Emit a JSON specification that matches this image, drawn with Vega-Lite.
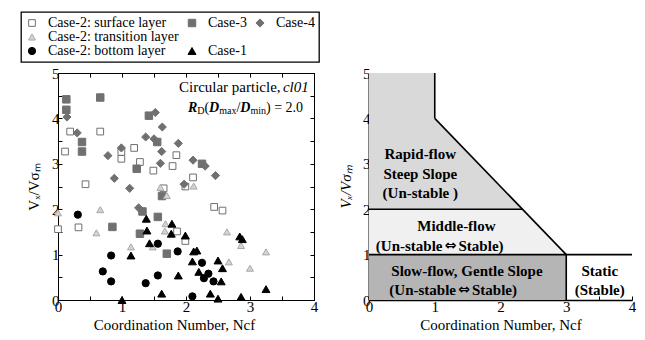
{
  "$schema": "https://vega.github.io/schema/vega-lite/v6.json",
  "padding": {"left": 19, "top": 10, "right": 5, "bottom": 5},
  "background": "white",
  "bounds": "flush",
  "spacing": 55,
  "resolve": {
    "scale": {"shape": "independent", "fill": "independent", "stroke": "independent", "size": "independent", "color": "independent"},
    "legend": {"shape": "independent", "fill": "independent", "stroke": "independent", "size": "independent", "color": "independent"}
  },
  "config": {
    "font": "Liberation Serif",
    "view": {"stroke": null},
    "axis": {
      "labelFont": "Liberation Serif", "labelFontSize": 15, "labelColor": "black",
      "titleFont": "Liberation Serif", "titleFontSize": 15, "titleFontWeight": "normal", "titleColor": "black",
      "domainColor": "black", "tickColor": "black", "tickSize": -4, "labelPadding": 3, "grid": false,
      "labelFlush": false, "labelOverlap": false
    },
    "legend": {
      "title": null, "orient": "none", "legendX": -37, "legendY": -61, "columns": 3,
      "labelFont": "Liberation Serif", "labelFontSize": 14, "labelColor": "black", "labelLimit": 0,
      "symbolStrokeWidth": 1, "labelOffset": 9, "columnPadding": 6, "rowPadding": 0,
      "padding": 4, "strokeColor": "black", "strokeWidth": 1.3, "fillColor": "white"
    }
  },
  "datasets": {
    "points": [
      {"case": "Case-2: surface layer", "Ncf": 0.0, "V": 1.56},
      {"case": "Case-2: surface layer", "Ncf": 0.11, "V": 3.27},
      {"case": "Case-2: surface layer", "Ncf": 0.19, "V": 3.71},
      {"case": "Case-2: surface layer", "Ncf": 0.32, "V": 1.6},
      {"case": "Case-2: surface layer", "Ncf": 0.43, "V": 2.55},
      {"case": "Case-2: surface layer", "Ncf": 0.66, "V": 3.71},
      {"case": "Case-2: surface layer", "Ncf": 0.99, "V": 3.26},
      {"case": "Case-2: surface layer", "Ncf": 0.99, "V": 3.11},
      {"case": "Case-2: surface layer", "Ncf": 1.19, "V": 3.35},
      {"case": "Case-2: surface layer", "Ncf": 1.28, "V": 3.04},
      {"case": "Case-2: surface layer", "Ncf": 1.49, "V": 2.85},
      {"case": "Case-2: surface layer", "Ncf": 1.65, "V": 2.46},
      {"case": "Case-2: surface layer", "Ncf": 1.79, "V": 2.95},
      {"case": "Case-2: surface layer", "Ncf": 1.85, "V": 3.19},
      {"case": "Case-2: surface layer", "Ncf": 1.86, "V": 1.51},
      {"case": "Case-2: surface layer", "Ncf": 1.99, "V": 2.5},
      {"case": "Case-2: surface layer", "Ncf": 1.99, "V": 1.3},
      {"case": "Case-2: surface layer", "Ncf": 2.11, "V": 2.7},
      {"case": "Case-2: surface layer", "Ncf": 2.44, "V": 2.05},
      {"case": "Case-2: surface layer", "Ncf": 2.57, "V": 1.97},
      {"case": "Case-3", "Ncf": 0.13, "V": 4.42},
      {"case": "Case-3", "Ncf": 0.13, "V": 4.19},
      {"case": "Case-3", "Ncf": 0.375, "V": 3.48},
      {"case": "Case-3", "Ncf": 0.375, "V": 3.27},
      {"case": "Case-3", "Ncf": 0.66, "V": 4.46},
      {"case": "Case-3", "Ncf": 0.85, "V": 1.61},
      {"case": "Case-3", "Ncf": 1.23, "V": 2.89},
      {"case": "Case-3", "Ncf": 1.28, "V": 1.46},
      {"case": "Case-3", "Ncf": 1.32, "V": 1.95},
      {"case": "Case-3", "Ncf": 1.42, "V": 4.06},
      {"case": "Case-3", "Ncf": 1.55, "V": 3.48},
      {"case": "Case-3", "Ncf": 1.56, "V": 1.83},
      {"case": "Case-3", "Ncf": 1.625, "V": 2.29},
      {"case": "Case-3", "Ncf": 1.7, "V": 1.02},
      {"case": "Case-3", "Ncf": 2.25, "V": 3.0},
      {"case": "Case-4", "Ncf": 0.14, "V": 4.03},
      {"case": "Case-4", "Ncf": 0.3, "V": 3.68},
      {"case": "Case-4", "Ncf": 0.78, "V": 3.18},
      {"case": "Case-4", "Ncf": 0.88, "V": 2.68},
      {"case": "Case-4", "Ncf": 0.99, "V": 3.35},
      {"case": "Case-4", "Ncf": 1.12, "V": 2.46},
      {"case": "Case-4", "Ncf": 1.26, "V": 2.03},
      {"case": "Case-4", "Ncf": 1.37, "V": 3.59},
      {"case": "Case-4", "Ncf": 1.5, "V": 3.55},
      {"case": "Case-4", "Ncf": 1.52, "V": 4.13},
      {"case": "Case-4", "Ncf": 1.62, "V": 3.27},
      {"case": "Case-4", "Ncf": 1.6, "V": 3.01},
      {"case": "Case-4", "Ncf": 1.63, "V": 3.81},
      {"case": "Case-4", "Ncf": 1.88, "V": 3.45},
      {"case": "Case-4", "Ncf": 1.97, "V": 2.55},
      {"case": "Case-4", "Ncf": 2.11, "V": 3.08},
      {"case": "Case-4", "Ncf": 2.3, "V": 2.95},
      {"case": "Case-4", "Ncf": 2.46, "V": 2.74},
      {"case": "Case-2: transition layer", "Ncf": 0.0, "V": 1.92},
      {"case": "Case-2: transition layer", "Ncf": 0.6, "V": 1.48},
      {"case": "Case-2: transition layer", "Ncf": 0.66, "V": 1.99},
      {"case": "Case-2: transition layer", "Ncf": 1.14, "V": 1.17},
      {"case": "Case-2: transition layer", "Ncf": 1.48, "V": 1.17},
      {"case": "Case-2: transition layer", "Ncf": 1.6, "V": 2.48},
      {"case": "Case-2: transition layer", "Ncf": 1.68, "V": 1.68},
      {"case": "Case-2: transition layer", "Ncf": 1.67, "V": 1.52},
      {"case": "Case-2: transition layer", "Ncf": 1.7, "V": 2.3},
      {"case": "Case-2: transition layer", "Ncf": 2.12, "V": 2.51},
      {"case": "Case-2: transition layer", "Ncf": 2.64, "V": 1.5},
      {"case": "Case-2: transition layer", "Ncf": 2.67, "V": 0.84},
      {"case": "Case-2: transition layer", "Ncf": 2.86, "V": 1.2},
      {"case": "Case-2: transition layer", "Ncf": 3.0, "V": 0.7},
      {"case": "Case-2: transition layer", "Ncf": 3.25, "V": 1.06},
      {"case": "Case-2: bottom layer", "Ncf": 0.31, "V": 1.88},
      {"case": "Case-2: bottom layer", "Ncf": 0.7, "V": 0.63},
      {"case": "Case-2: bottom layer", "Ncf": 0.83, "V": 0.98},
      {"case": "Case-2: bottom layer", "Ncf": 0.83, "V": 0.41},
      {"case": "Case-2: bottom layer", "Ncf": 1.37, "V": 0.37},
      {"case": "Case-2: bottom layer", "Ncf": 1.56, "V": 1.24},
      {"case": "Case-2: bottom layer", "Ncf": 1.56, "V": 0.54},
      {"case": "Case-2: bottom layer", "Ncf": 1.87, "V": 1.07},
      {"case": "Case-2: bottom layer", "Ncf": 2.1, "V": 0.08},
      {"case": "Case-2: bottom layer", "Ncf": 2.25, "V": 0.82},
      {"case": "Case-2: bottom layer", "Ncf": 2.28, "V": 0.48},
      {"case": "Case-2: bottom layer", "Ncf": 2.35, "V": 0.58},
      {"case": "Case-2: bottom layer", "Ncf": 2.43, "V": 0.41},
      {"case": "Case-1", "Ncf": 1.0, "V": 0.0},
      {"case": "Case-1", "Ncf": 1.14, "V": 0.98},
      {"case": "Case-1", "Ncf": 1.38, "V": 1.79},
      {"case": "Case-1", "Ncf": 1.39, "V": 1.53},
      {"case": "Case-1", "Ncf": 1.43, "V": 1.25},
      {"case": "Case-1", "Ncf": 1.62, "V": 0.14},
      {"case": "Case-1", "Ncf": 1.78, "V": 1.68},
      {"case": "Case-1", "Ncf": 1.77, "V": 1.46},
      {"case": "Case-1", "Ncf": 1.88, "V": 0.54},
      {"case": "Case-1", "Ncf": 1.99, "V": 1.42},
      {"case": "Case-1", "Ncf": 2.12, "V": 1.07},
      {"case": "Case-1", "Ncf": 2.17, "V": 1.09},
      {"case": "Case-1", "Ncf": 2.1, "V": 0.85},
      {"case": "Case-1", "Ncf": 2.2, "V": 0.62},
      {"case": "Case-1", "Ncf": 2.38, "V": 0.14},
      {"case": "Case-1", "Ncf": 2.5, "V": 0.87},
      {"case": "Case-1", "Ncf": 2.57, "V": 0.7},
      {"case": "Case-1", "Ncf": 2.55, "V": 0.41},
      {"case": "Case-1", "Ncf": 2.5, "V": 0.03},
      {"case": "Case-1", "Ncf": 2.84, "V": 1.4},
      {"case": "Case-1", "Ncf": 2.88, "V": 1.34},
      {"case": "Case-1", "Ncf": 2.86, "V": 0.07},
      {"case": "Case-1", "Ncf": 3.25, "V": 0.24}
    ],
    "zoneAreas": [
      {"zone": "rapid", "x": 0, "y": 5, "base": 2},
      {"zone": "rapid", "x": 1, "y": 5, "base": 2},
      {"zone": "rapid", "x": 1, "y": 4, "base": 2},
      {"zone": "rapid", "x": 2.333, "y": 2, "base": 2},
      {"zone": "middle", "x": 0, "y": 2, "base": 1},
      {"zone": "middle", "x": 2.333, "y": 2, "base": 1},
      {"zone": "middle", "x": 3, "y": 1, "base": 1},
      {"zone": "slow", "x": 0, "y": 1, "base": 0},
      {"zone": "slow", "x": 3, "y": 1, "base": 0}
    ],
    "boundaries": [
      {"x": 1, "y": 5, "x2": 1, "y2": 4},
      {"x": 1, "y": 4, "x2": 3, "y2": 1},
      {"x": 0, "y": 2, "x2": 2.333, "y2": 2},
      {"x": 0, "y": 1, "x2": 4, "y2": 1},
      {"x": 3, "y": 0, "x2": 3, "y2": 1}
    ],
    "zoneLabels": [
      {"label": "Rapid-flow", "x": 0.78, "y": 3.22},
      {"label": "Steep Slope", "x": 0.78, "y": 2.78},
      {"label": "(Un-stable )", "x": 0.78, "y": 2.35},
      {"label": "Middle-flow", "x": 1.33, "y": 1.64},
      {"label": "Slow-flow,  Gentle Slope", "x": 1.49, "y": 0.64},
      {"label": "Static", "x": 3.51, "y": 0.64},
      {"label": "(Stable)", "x": 3.51, "y": 0.22}
    ],
    "arrowLines": [
      {"left": "(Un-stable", "right": "Stable)", "x": 1.24, "y": 1.2},
      {"left": "(Un-stable", "right": "Stable)", "x": 1.445, "y": 0.22}
    ]
  },
  "hconcat": [
    {
      "width": 256,
      "height": 227,
      "view": {"stroke": "black", "strokeWidth": 1},
      "resolve": {"axis": {"x": "independent", "y": "independent"}},
      "layer": [
        {
          "data": {"name": "points"},
          "mark": {"type": "point", "filled": true, "opacity": 1, "strokeWidth": 1},
          "encoding": {
            "x": {"field": "Ncf", "type": "quantitative",
              "scale": {"domain": [0, 4], "nice": false},
              "axis": {"values": [0, 0.5, 1, 1.5, 2, 2.5, 3, 3.5, 4],
                "labelExpr": "datum.value % 1 == 0 ? format(datum.value, 'd') : ''",
                "title": "Coordination Number, Ncf", "titleX": 116, "titlePadding": 3}},
            "y": {"field": "V", "type": "quantitative",
              "scale": {"domain": [0, 5], "nice": false},
              "axis": {"values": [0, 0.5, 1, 1.5, 2, 2.5, 3, 3.5, 4, 4.5, 5],
                "labelExpr": "datum.value % 1 == 0 ? format(datum.value, 'd') : ''",
                "title": "Vₓ/Vσₘ", "titlePadding": 10}},
            "shape": {"field": "case", "type": "nominal",
              "scale": {"domain": ["Case-2: surface layer", "Case-2: transition layer", "Case-2: bottom layer", "Case-3", " ", "Case-1", "Case-4", "  "],
                "range": ["square", "triangle-up", "circle", "square", "circle", "triangle-up", "diamond", "circle"]},
              "legend": {"labelFont": "Liberation Serif", "labelFontSize": 14, "labelColor": "black",
                "encode": {"labels": {"update": {"font": {"value": "Liberation Serif"}, "fontSize": {"value": 14}}}}}},
            "fill": {"field": "case", "type": "nominal",
              "scale": {"domain": ["Case-2: surface layer", "Case-2: transition layer", "Case-2: bottom layer", "Case-3", " ", "Case-1", "Case-4", "  "],
                "range": ["white", "#d4d4d4", "black", "#707070", "transparent", "black", "#707070", "transparent"]}},
            "stroke": {"field": "case", "type": "nominal",
              "scale": {"domain": ["Case-2: surface layer", "Case-2: transition layer", "Case-2: bottom layer", "Case-3", " ", "Case-1", "Case-4", "  "],
                "range": ["#707070", "#a8a8a8", "black", "#707070", "transparent", "black", "#707070", "transparent"]}},
            "size": {"field": "case", "type": "nominal",
              "scale": {"domain": ["Case-2: surface layer", "Case-2: transition layer", "Case-2: bottom layer", "Case-3", " ", "Case-1", "Case-4", "  "],
                "range": [45, 70, 60, 48, 10, 70, 100, 10]}}
          }
        },
        {
          "data": {"name": "points"},
          "mark": {"type": "point", "opacity": 0},
          "encoding": {
            "x": {"field": "Ncf", "type": "quantitative",
              "axis": {"orient": "top", "values": [0, 0.5, 1, 1.5, 2, 2.5, 3, 3.5, 4], "labels": false, "title": null}},
            "y": {"field": "V", "type": "quantitative",
              "axis": {"orient": "right", "values": [0, 0.5, 1, 1.5, 2, 2.5, 3, 3.5, 4, 4.5, 5], "labels": false, "title": null}}
          }
        },
        {"data": {"values": [{}]}, "mark": {"type": "text", "text": "Circular particle,", "align": "left", "baseline": "middle", "fontSize": 15, "font": "Liberation Serif", "color": "black"},
          "encoding": {"x": {"datum": 1.89, "type": "quantitative", "axis": null}, "y": {"datum": 4.69, "type": "quantitative", "axis": null}}},
        {"data": {"values": [{}]}, "mark": {"type": "text", "text": "cl01", "align": "left", "baseline": "middle", "fontSize": 15, "fontStyle": "italic", "dx": 104, "font": "Liberation Serif", "color": "black"},
          "encoding": {"x": {"datum": 1.89, "type": "quantitative", "axis": null}, "y": {"datum": 4.69, "type": "quantitative", "axis": null}}},
        {"data": {"values": [{}]}, "mark": {"type": "text", "text": "R", "align": "left", "baseline": "middle", "fontSize": 14, "fontStyle": "italic", "fontWeight": "bold", "font": "Liberation Serif", "color": "black"},
          "encoding": {"x": {"datum": 2.03, "type": "quantitative", "axis": null}, "y": {"datum": 4.23, "type": "quantitative", "axis": null}}},
        {"data": {"values": [{}]}, "mark": {"type": "text", "text": "D", "align": "left", "baseline": "middle", "fontSize": 10, "dx": 9.3, "dy": 3, "font": "Liberation Serif", "color": "black"},
          "encoding": {"x": {"datum": 2.03, "type": "quantitative", "axis": null}, "y": {"datum": 4.23, "type": "quantitative", "axis": null}}},
        {"data": {"values": [{}]}, "mark": {"type": "text", "text": "(", "align": "left", "baseline": "middle", "fontSize": 14, "dx": 16.5, "font": "Liberation Serif", "color": "black"},
          "encoding": {"x": {"datum": 2.03, "type": "quantitative", "axis": null}, "y": {"datum": 4.23, "type": "quantitative", "axis": null}}},
        {"data": {"values": [{}]}, "mark": {"type": "text", "text": "D", "align": "left", "baseline": "middle", "fontSize": 14, "fontStyle": "italic", "fontWeight": "bold", "dx": 21.2, "font": "Liberation Serif", "color": "black"},
          "encoding": {"x": {"datum": 2.03, "type": "quantitative", "axis": null}, "y": {"datum": 4.23, "type": "quantitative", "axis": null}}},
        {"data": {"values": [{}]}, "mark": {"type": "text", "text": "max", "align": "left", "baseline": "middle", "fontSize": 10, "dx": 31.3, "dy": 3, "font": "Liberation Serif", "color": "black"},
          "encoding": {"x": {"datum": 2.03, "type": "quantitative", "axis": null}, "y": {"datum": 4.23, "type": "quantitative", "axis": null}}},
        {"data": {"values": [{}]}, "mark": {"type": "text", "text": "/", "align": "left", "baseline": "middle", "fontSize": 14, "dx": 48.5, "font": "Liberation Serif", "color": "black"},
          "encoding": {"x": {"datum": 2.03, "type": "quantitative", "axis": null}, "y": {"datum": 4.23, "type": "quantitative", "axis": null}}},
        {"data": {"values": [{}]}, "mark": {"type": "text", "text": "D", "align": "left", "baseline": "middle", "fontSize": 14, "fontStyle": "italic", "fontWeight": "bold", "dx": 52.4, "font": "Liberation Serif", "color": "black"},
          "encoding": {"x": {"datum": 2.03, "type": "quantitative", "axis": null}, "y": {"datum": 4.23, "type": "quantitative", "axis": null}}},
        {"data": {"values": [{}]}, "mark": {"type": "text", "text": "min", "align": "left", "baseline": "middle", "fontSize": 10, "dx": 62.5, "dy": 3, "font": "Liberation Serif", "color": "black"},
          "encoding": {"x": {"datum": 2.03, "type": "quantitative", "axis": null}, "y": {"datum": 4.23, "type": "quantitative", "axis": null}}},
        {"data": {"values": [{}]}, "mark": {"type": "text", "text": ") = 2.0", "align": "left", "baseline": "middle", "fontSize": 14, "dx": 78.1, "font": "Liberation Serif", "color": "black"},
          "encoding": {"x": {"datum": 2.03, "type": "quantitative", "axis": null}, "y": {"datum": 4.23, "type": "quantitative", "axis": null}}}
      ]
    },
    {
      "width": 263,
      "height": 227,
      "view": {"stroke": null},
      "encoding": {
        "x": {"field": "x", "type": "quantitative",
          "scale": {"domain": [0, 4], "nice": false},
          "axis": {"values": [0, 0.5, 1, 1.5, 2, 2.5, 3, 3.5, 4],
            "labelExpr": "datum.value % 1 == 0 ? format(datum.value, 'd') : ''",
            "title": "Coordination Number, Ncf", "titlePadding": 3, "domainWidth": 1.5}},
        "y": {"field": "y", "type": "quantitative",
          "scale": {"domain": [0, 5], "nice": false},
          "axis": {"values": [0, 0.5, 1, 1.5, 2, 2.5, 3, 3.5, 4, 4.5, 5],
            "labelExpr": "datum.value % 1 == 0 ? format(datum.value, 'd') : ''",
            "title": "Vₓ/Vσₘ", "titleFontStyle": "italic", "titlePadding": 9, "domainWidth": 2}}
      },
      "layer": [
        {
          "data": {"name": "zoneAreas"},
          "mark": {"type": "area", "opacity": 1, "interpolate": "linear"},
          "encoding": {
            "y2": {"field": "base"},
            "color": {"field": "zone", "type": "nominal",
              "scale": {"domain": ["rapid", "middle", "slow"], "range": ["#d9d9d9", "#f0f0f0", "#b5b5b5"]},
              "legend": null}
          }
        },
        {
          "data": {"name": "boundaries"},
          "mark": {"type": "rule", "color": "black", "strokeWidth": 1.6},
          "encoding": {
            "x2": {"field": "x2"},
            "y2": {"field": "y2"}
          }
        },
        {
          "data": {"name": "zoneLabels"},
          "mark": {"type": "text", "font": "Liberation Serif", "fontSize": 15, "fontWeight": "bold", "color": "black", "align": "center", "baseline": "middle"},
          "encoding": {"text": {"field": "label"}}
        },
        {
          "data": {"name": "arrowLines"},
          "mark": {"type": "text", "font": "Liberation Serif", "fontSize": 15, "fontWeight": "bold", "color": "black", "align": "right", "baseline": "middle", "dx": -8},
          "encoding": {"text": {"field": "left"}}
        },
        {
          "data": {"name": "arrowLines"},
          "mark": {"type": "text", "text": "⇔", "font": "DejaVu Sans", "fontSize": 14, "fontWeight": "bold", "color": "black", "align": "center", "baseline": "middle"},
          "encoding": {}
        },
        {
          "data": {"name": "arrowLines"},
          "mark": {"type": "text", "font": "Liberation Serif", "fontSize": 15, "fontWeight": "bold", "color": "black", "align": "left", "baseline": "middle", "dx": 8},
          "encoding": {"text": {"field": "right"}}
        }
      ]
    }
  ]
}
